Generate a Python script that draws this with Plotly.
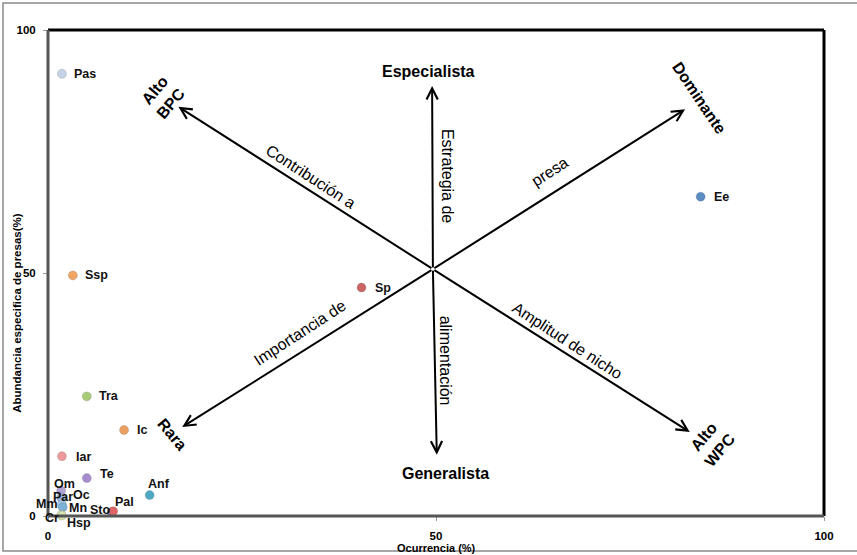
import plotly.graph_objects as go

# ---- data ----
species = ["Pas", "Ssp", "Tra", "Ic", "Iar", "Te", "Om", "Par", "Oc", "Mm",
           "Mn", "Cr", "Hsp", "Sto", "Pal", "Anf", "Sp", "Ee"]
occurrence = [1.8, 3.2, 5.0, 9.8, 1.8, 5.0, 1.7, 1.7, 1.8, 1.8,
              1.9, 1.7, 1.8, 8.2, 8.4, 13.1, 40.4, 84.1]
abundance = [91.0, 49.5, 24.6, 17.7, 12.3, 7.8, 5.2, 3.8, 3.6, 2.4,
             1.8, 0.2, 0.1, 0.8, 1.0, 4.3, 47.0, 65.7]
colors = ["#c5d3e8", "#f2a465", "#a9cc7a", "#eba060", "#ee9a9a", "#a68ccc",
          "#b4a2d4", "#a8b8e0", "#9ab0dc", "#a0c4e8", "#7fb0d8", "#dfe6b8",
          "#d8e4b0", "#6a8cc8", "#e06464", "#4ea9c4", "#cc6464", "#5b8cc4"]
# label offsets in pixels (xshift, yshift, xanchor)
label_pos = {
    "Pas": (10, 0, "left"), "Ssp": (10, 0, "left"), "Tra": (10, 0, "left"),
    "Ic": (11, 0, "left"), "Iar": (12, -1, "left"), "Te": (11, 4, "left"),
    "Om": (3, 7, "center"), "Par": (2, 1, "center"), "Oc": (20, 4, "center"),
    "Mm": (-15, 0, "center"), "Mn": (15, -1, "center"), "Cr": (-9, -3, "center"),
    "Hsp": (17, -7, "center"), "Sto": (-11, 2, "center"), "Pal": (11, 9, "center"),
    "Anf": (9, 11, "center"), "Sp": (11, 0, "left"), "Ee": (11, 0, "left"),
}

x_ticks = [0, 50, 100]
y_ticks = [0, 50, 100]

# Costello diagram guides (data coordinates)
center = (49.6, 50.8)
arrow_tips = [(49.5, 88.5), (50.1, 12.6), (16.8, 84.2), (82.1, 83.7), (82.7, 17.3), (17.3, 18.3)]

FONT = "Arial, Liberation Sans, Helvetica, sans-serif"

fig = go.Figure()
fig.add_trace(go.Scatter(
    x=occurrence, y=abundance, mode="markers",
    marker=dict(size=9, color=colors, line=dict(width=0.6, color="rgba(80,80,80,0.35)")),
    hoverinfo="text", text=species, showlegend=False, cliponaxis=False,
))

annotations = []
for s, xv, yv in zip(species, occurrence, abundance):
    dx, dy, anc = label_pos[s]
    annotations.append(dict(x=xv, y=yv, text=s, showarrow=False, xanchor=anc, yanchor="middle",
                            xshift=dx, yshift=dy,
                            font=dict(family=FONT, size=12.5, color="#111", weight="bold")))

for tx, ty in arrow_tips:
    annotations.append(dict(x=tx, y=ty, ax=center[0], ay=center[1], xref="x", yref="y",
                            axref="x", ayref="y", showarrow=True, arrowhead=5, arrowsize=1.1,
                            arrowwidth=2, arrowcolor="black", text=""))

bold_labels = [
    ("Especialista", 49.0, 91.4, 0),
    ("Generalista", 51.2, 8.8, 0),
    ("Dominante", 84.0, 86.0, 56),
    ("Alto<br>BPC", 14.8, 86.2, -50),
    ("Alto<br>WPC", 85.6, 15.0, -50),
    ("Rara", 16.0, 16.7, 50),
]
for t, xv, yv, ang in bold_labels:
    annotations.append(dict(x=xv, y=yv, text=t, showarrow=False, textangle=ang,
                            xanchor="center", yanchor="middle",
                            font=dict(family=FONT, size=16, color="black", weight="bold")))

axis_labels = [
    ("Estrategia de", 51.4, 70.0, 90),
    ("alimentación", 51.2, 31.9, 90),
    ("Contribución a", 33.8, 69.8, 33),
    ("presa", 64.7, 70.8, -33),
    ("Importancia de", 32.5, 37.7, -33),
    ("Amplitud de nicho", 66.9, 36.2, 33),
]
for t, xv, yv, ang in axis_labels:
    annotations.append(dict(x=xv, y=yv, text=t, showarrow=False, textangle=ang,
                            xanchor="center", yanchor="middle",
                            font=dict(family=FONT, size=16, color="black")))

# axis titles
annotations.append(dict(x=0.501, y=-0.066, xref="paper", yref="paper", text="Ocurrencia (%)",
                        xanchor="center", yanchor="middle",
                        showarrow=False, font=dict(family=FONT, size=11, color="black", weight="bold")))
annotations.append(dict(x=-0.040, y=0.418, xref="paper", yref="paper",
                        text="Abundancia especifica de presas(%)", textangle=-90,
                        xanchor="center", yanchor="middle",
                        showarrow=False, font=dict(family=FONT, size=11.5, color="black", weight="bold")))

shapes = [
    # outer frame
    dict(type="rect", xref="paper", yref="paper", x0=-0.058, x1=1.10, y0=-0.072, y1=1.0556,
         line=dict(color="#8a8a8a", width=1.5), layer="below"),
    # plot box
    dict(type="line", xref="paper", yref="paper", x0=0, x1=1, y0=1, y1=1, line=dict(color="black", width=3)),
    dict(type="line", xref="paper", yref="paper", x0=1, x1=1, y0=0, y1=1, line=dict(color="black", width=3)),
    dict(type="line", xref="paper", yref="paper", x0=0, x1=0, y0=0, y1=1, line=dict(color="#555", width=3)),
    dict(type="line", xref="paper", yref="paper", x0=0, x1=1, y0=0, y1=0, line=dict(color="#555", width=3)),
]

fig.update_layout(
    width=857, height=555,
    margin=dict(l=48, r=33, t=30, b=39),
    paper_bgcolor="white", plot_bgcolor="white",
    annotations=annotations, shapes=shapes,
    xaxis=dict(range=[0, 100], tickvals=x_ticks, showgrid=False, zeroline=False, showline=False,
               ticks="outside", ticklen=4, tickcolor="#999", ticklabelstandoff=5,
               tickfont=dict(family=FONT, size=11.5, color="black", weight="bold")),
    yaxis=dict(range=[0, 100], tickvals=y_ticks, showgrid=False, zeroline=False, showline=False,
               ticks="outside", ticklen=4, tickcolor="#999", ticklabelstandoff=5,
               tickfont=dict(family=FONT, size=11.5, color="black", weight="bold")),
)

fig.write_html("out.html", config={"displayModeBar": False},
               post_script="document.body.style.margin='0';document.body.style.padding='0';")
